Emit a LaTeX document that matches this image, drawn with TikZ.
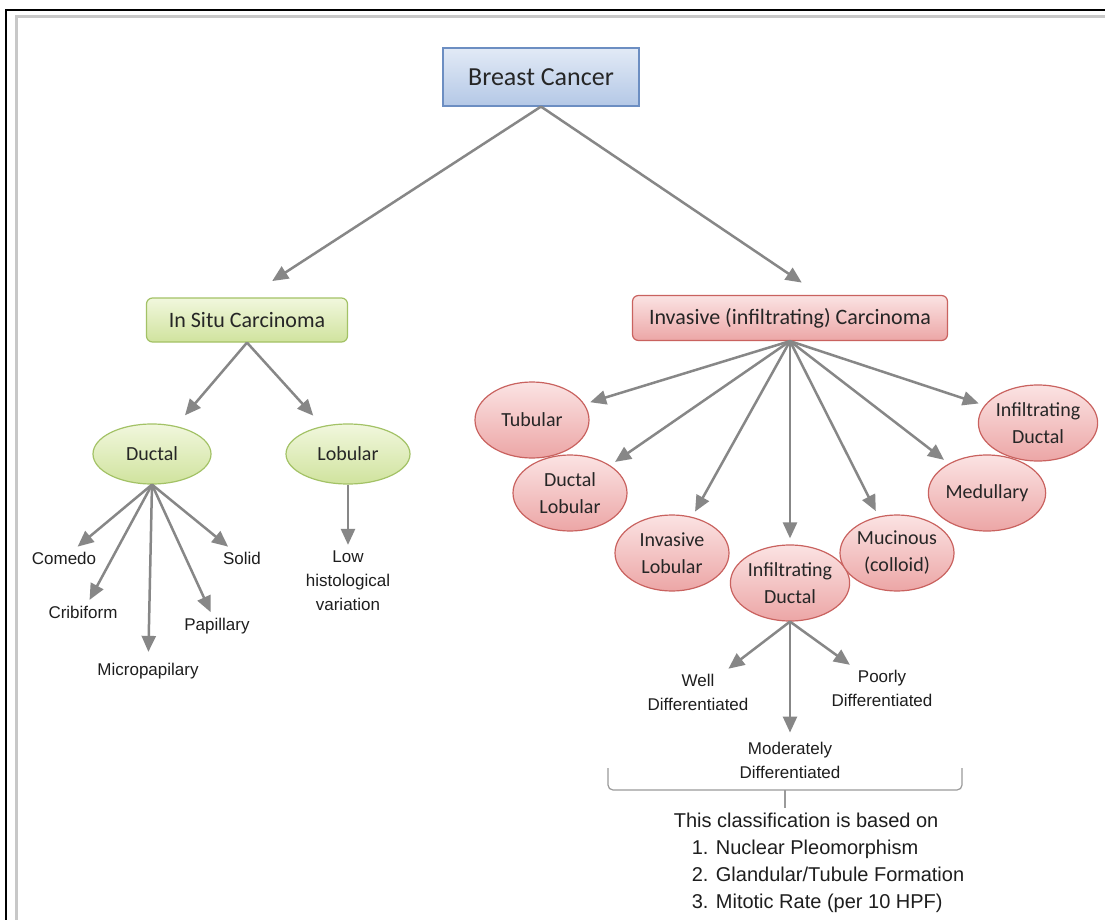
\documentclass[tikz,border=0pt]{standalone}
\usepackage{fontspec}
\setmainfont{Liberation Sans}
\newfontfamily\calibri{Carlito}
\usetikzlibrary{positioning,shapes.geometric,arrows.meta}
\definecolor{arrowgray}{HTML}{878787}
\definecolor{framegray}{HTML}{C8C8C8}
\definecolor{bracegray}{HTML}{9A9A9A}
\definecolor{boxtext}{HTML}{262626}
\definecolor{labeltext}{HTML}{1E1E1E}
\definecolor{bluetop}{HTML}{E2EAF6}
\definecolor{bluebot}{HTML}{B4C8E6}
\definecolor{blueedge}{HTML}{6C8EC2}
\definecolor{greentop}{HTML}{F1F7DD}
\definecolor{greenbot}{HTML}{D0E39E}
\definecolor{greenedge}{HTML}{A3C266}
\definecolor{pinktop}{HTML}{FBE3E3}
\definecolor{pinkbot}{HTML}{ECA6A6}
\definecolor{pinkedge}{HTML}{C9625F}

\begin{document}
\begin{tikzpicture}[x=1pt,y=-1pt,on grid,
		conn/.style={every edge/.style={draw=arrowgray,line width=2.5pt,-{Triangle[length=16pt,width=14pt]},shorten >=6pt}},
		rootbox/.style={rectangle,draw=blueedge,line width=1.2pt,top color=bluetop,bottom color=bluebot,minimum width=196pt,minimum height=58pt,text=boxtext,font=\calibri\fontsize{26}{30}\selectfont},
		situbox/.style={rectangle,rounded corners=6pt,draw=greenedge,line width=1.2pt,top color=greentop,bottom color=greenbot,minimum width=201pt,minimum height=44pt,text=boxtext,font=\calibri\fontsize{22}{26}\selectfont},
		invbox/.style={rectangle,rounded corners=6pt,draw=pinkedge,line width=1.2pt,top color=pinktop,bottom color=pinkbot,minimum width=315pt,minimum height=45pt,text=boxtext,font=\calibri\fontsize{22}{26}\selectfont},
		greenoval/.style={ellipse,draw=greenedge,line width=1.2pt,top color=greentop,bottom color=greenbot,minimum width=118pt,minimum height=60pt,inner sep=0pt,text=boxtext,font=\calibri\fontsize{20}{27}\selectfont},
		pinkoval/.style={ellipse,draw=pinkedge,line width=1.2pt,top color=pinktop,bottom color=pinkbot,minimum width=114pt,minimum height=76pt,inner sep=0pt,align=center,text=boxtext,font=\calibri\fontsize{20}{27}\selectfont},
		lbl/.style={align=center,inner sep=3pt,text=labeltext,font=\fontsize{17}{24}\selectfont},
		cls/.style={align=left,inner sep=0pt,text=labeltext,font=\fontsize{20}{27}\selectfont}]
	\useasboundingbox (0,0) rectangle (1105,920);
	\fill[white] (0,0) rectangle (1105,920);
	% frame
	\draw[black,line width=2.4pt] (6,920) -- (6,10) -- (1105,10);
	\draw[framegray,line width=3pt] (16,920) -- (16,17) -- (1105,17);

	\node[rootbox] (bc) at (541,77) {Breast Cancer};
	\node[situbox] (situ) [below left=243pt and 294pt of bc] {In Situ Carcinoma};
	\node[invbox] (inv) [below right=241pt and 249pt of bc] {Invasive (infiltrating) Carcinoma};

	% in situ branch
	\node[greenoval] (duc) [below left=134pt and 95pt of situ] {Ductal};
	\node[greenoval,minimum width=124pt] (lob) [below right=134pt and 101pt of situ] {Lobular};
	\node[lbl] (comedo) [below left=104pt and 88pt of duc] {Comedo};
	\node[lbl] (cribi) [below left=158pt and 69pt of duc] {Cribiform};
	\node[lbl] (micro) [below left=217pt and 4pt of duc] {Micropapilary};
	\node[lbl] (papil) [below right=172pt and 65pt of duc] {Papillary};
	\node[lbl] (solid) [below right=104pt and 90pt of duc] {Solid};
	\node[lbl] (lowhist) [below=127pt of lob] {Low\\histological\\variation};

	% invasive branch
	\node[pinkoval] (tub) [below left=102pt and 258pt of inv] {Tubular};
	\node[pinkoval] (duclob) [below left=175pt and 220pt of inv] {Ductal\\Lobular};
	\node[pinkoval] (invlob) [below left=235pt and 118pt of inv] {Invasive\\Lobular};
	\node[pinkoval] (infdm) [below=265pt of inv] {Infiltrating\\Ductal};
	\node[pinkoval] (muc) [below right=235pt and 107pt of inv] {Mucinous\\(colloid)};
	\node[pinkoval] (med) [below right=175pt and 197pt of inv] {Medullary};
	\node[pinkoval] (infdr) [below right=105pt and 248pt of inv] {Infiltrating\\Ductal};

	\node[lbl] (well) [below left=109pt and 92pt of infdm] {Well\\Differentiated};
	\node[lbl] (poor) [below right=105pt and 92pt of infdm] {Poorly\\Differentiated};
	\node[lbl] (moder) [below=177pt of infdm] {Moderately\\Differentiated};
	\node[cls] (basis) [below right=103pt and 29pt of moder] {This classification is based on\\
		\hspace*{18pt}1. Nuclear Pleomorphism\\
		\hspace*{18pt}2. Glandular/Tubule Formation\\
		\hspace*{18pt}3. Mitotic Rate (per 10 HPF)};

	% brace over the three grades
	\draw[bracegray,line width=1.2pt,rounded corners=5pt] (608,768) -- (608,790) -- (962,790) -- (962,768);
	\draw[bracegray,line width=1.2pt] (785,790) -- (785,808);

	\path[conn]
		(bc.south) edge[shorten >=30pt] (situ.north)
		(bc.south) edge[shorten >=22pt] ([xshift=30pt]inv.north)
		(situ.south) edge[shorten >=14pt] (duc)
		(situ.south) edge[shorten >=14pt] (lob)
		(duc.south) edge[shorten >=3pt] (comedo)
		(duc.south) edge[shorten >=3pt] (cribi)
		(duc.south) edge[shorten >=8pt] (micro)
		(duc.south) edge[shorten >=3pt] (papil)
		(duc.south) edge[shorten >=3pt] (solid)
		(lob.south) edge[shorten >=3pt] (lowhist)
		(inv.south) edge (tub)
		(inv.south) edge (duclob)
		(inv.south) edge (invlob)
		(inv.south) edge (infdm)
		(inv.south) edge (muc)
		(inv.south) edge (med)
		(inv.south) edge (infdr)
		(infdm.south) edge[shorten >=3pt] (well)
		(infdm.south) edge[shorten >=3pt] (poor)
		(infdm.south) edge[shorten >=6pt] (moder);
\end{tikzpicture}
\end{document}
